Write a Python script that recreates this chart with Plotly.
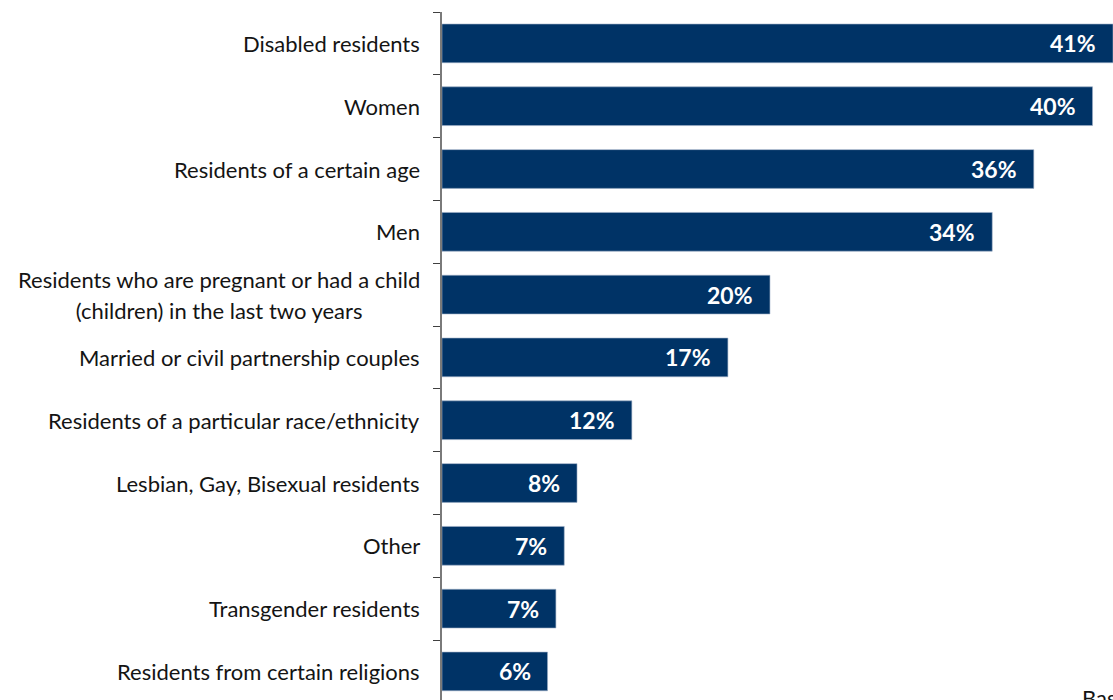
import plotly.graph_objects as go

# Share of respondents selecting each group (%)
categories = [
    "Disabled residents",
    "Women",
    "Residents of a certain age",
    "Men",
    "Residents who are pregnant or had a child<br>(children) in the last two years",
    "Married or civil partnership couples",
    "Residents of a particular race/ethnicity",
    "Lesbian, Gay, Bisexual residents",
    "Other",
    "Transgender residents",
    "Residents from certain religions",
]
values = [41.0, 39.75, 36.16, 33.62, 20.04, 17.47, 11.6, 8.25, 7.47, 6.96, 6.45]
value_labels = [f"{v:.0f}%" for v in values]
base_note = "Base"

BAR_COLOR = "#003366"
TEXT_COLOR = "#141414"
FONT = "Lato, 'Open Sans', sans-serif"
LABEL_SIZE = 22

fig = go.Figure(
    go.Bar(
        x=values,
        y=categories,
        orientation="h",
        marker=dict(color=BAR_COLOR, line=dict(color="#9fb0c8", width=0.6)),
        hoverinfo="skip",
    )
)

annotations = []
# Category labels, right-aligned against the axis; multi-line labels centred
for cat in categories:
    lines = cat.split("<br>")
    text = "<br>".join(
        f"<span style='font-size:{LABEL_SIZE}px'>{ln}</span>" for ln in lines
    )
    annotations.append(
        dict(
            x=0, y=cat, xref="x", yref="y",
            text=text, showarrow=False,
            xanchor="right", yanchor="middle", align="center",
            xshift=-20,
            font=dict(family=FONT, size=24, color=TEXT_COLOR),
        )
    )

# Value labels inside the end of each bar
for cat, v, lab in zip(categories, values, value_labels):
    annotations.append(
        dict(
            x=v, y=cat, xref="x", yref="y",
            text=f"<b>{lab}</b>", showarrow=False,
            xanchor="right", yanchor="middle",
            xshift=-15,
            font=dict(family=FONT, size=23, color="white"),
        )
    )

# Footnote at the bottom-right corner
annotations.append(
    dict(
        x=0.951, y=0.026, xref="paper", yref="paper",
        text=base_note, showarrow=False,
        xanchor="left", yanchor="top",
        font=dict(family=FONT, size=LABEL_SIZE, color=TEXT_COLOR),
    )
)

fig.update_layout(
    width=1113,
    height=700,
    margin=dict(l=442, r=0, t=12, b=0),
    paper_bgcolor="white",
    plot_bgcolor="white",
    bargap=0.383,
    showlegend=False,
    annotations=annotations,
    xaxis=dict(
        range=[0, 41.0],
        visible=False,
        fixedrange=True,
    ),
    yaxis=dict(
        type="category",
        range=[10.455, -0.5],
        showticklabels=False,
        showline=True,
        linecolor="#7a7a7a",
        linewidth=1.5,
        ticks="outside",
        tickson="boundaries",
        ticklen=7,
        tickcolor="#404040",
        tickwidth=1.2,
        showgrid=False,
        zeroline=False,
        fixedrange=True,
    ),
)

fig.write_html("out.html")
